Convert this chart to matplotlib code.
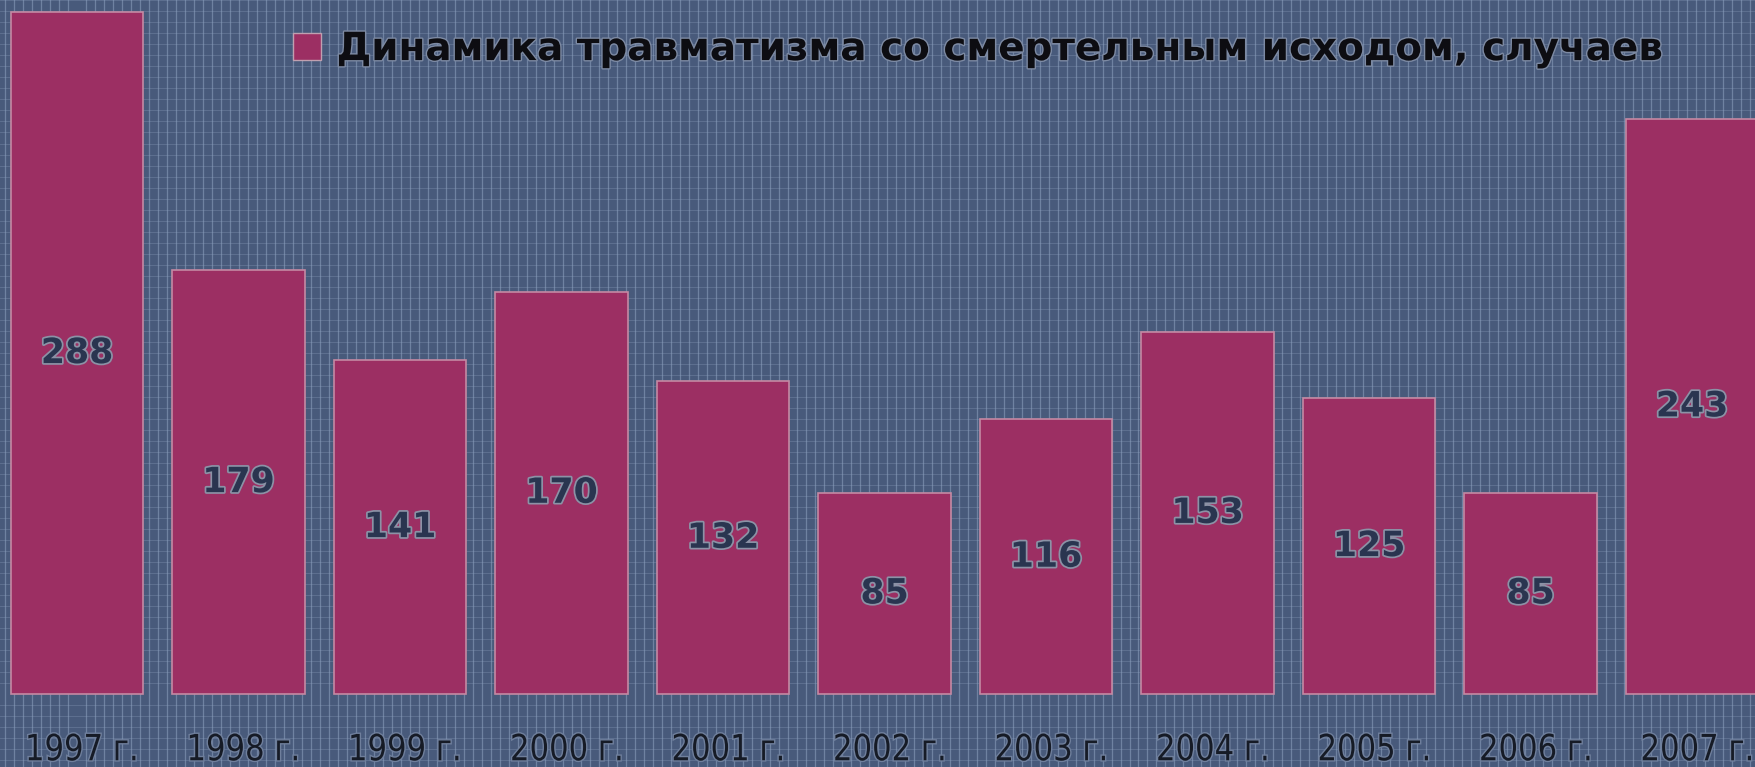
import matplotlib.pyplot as plt
import matplotlib.patheffects as pe
from matplotlib.patches import Patch, PathPatch
from matplotlib.textpath import TextPath
from matplotlib.font_manager import FontProperties
from matplotlib.transforms import Affine2D
from matplotlib.ticker import MultipleLocator

# Смертельный травматизм по годам
years = ['1997 г.', '1998 г.', '1999 г.', '2000 г.', '2001 г.', '2002 г.',
         '2003 г.', '2004 г.', '2005 г.', '2006 г.', '2007 г.']
cases = [288, 179, 141, 170, 132, 85, 116, 153, 125, 85, 243]
series_name = 'Динамика травматизма со смертельным исходом, случаев'

bg_color = '#485a7b'
bar_color = '#9c2f63'
DPI = 100

fig = plt.figure(figsize=(17.55, 7.67), dpi=DPI)
fig.patch.set_facecolor(bg_color)
ax = fig.add_axes([0, 0, 1, 1])
ax.set_facecolor(bg_color)

x = list(range(len(years)))
ax.bar(x, cases, width=0.82, color=bar_color, edgecolor='#c48aa3', linewidth=1.2, zorder=3)

ax.set_xlim(-0.477, 10.39)
ax.set_ylim(-30.8, 293.1)

# мелкая сетка-фактура на фоне
ax.xaxis.set_minor_locator(MultipleLocator(0.0557))
ax.yaxis.set_minor_locator(MultipleLocator(4.65))
ax.grid(which='minor', axis='x', color='#91a4c2', linewidth=0.9, alpha=0.55)
ax.grid(which='minor', axis='y', color='#91a4c2', linewidth=0.6, alpha=0.35)
ax.set_axisbelow(True)
ax.tick_params(which='both', length=0, labelbottom=False, labelleft=False)
for s in ax.spines.values():
    s.set_visible(False)

outline = [pe.withStroke(linewidth=2.5, foreground='#8c92a6')]
for xi, v in zip(x, cases):
    ax.text(xi, v / 2, str(v), ha='center', va='center', fontsize=25,
            fontweight='bold', color='#2a3550', path_effects=outline, zorder=4)


def narrow_label(xd, yd, s, size_pt, sx):
    """Подпись, сжатая по горизонтали (узкий шрифт подписей лет)."""
    tp = TextPath((0, 0), s, size=size_pt * DPI / 72, prop=FontProperties(family='DejaVu Sans'))
    bb = tp.get_extents()
    cx, cy = ax.transData.transform((xd, yd))
    tr = (Affine2D().translate(-(bb.x0 + bb.x1) / 2, -(bb.y0 + bb.y1) / 2)
          .scale(sx, 1).translate(cx, cy))
    p = PathPatch(tp, transform=tr, facecolor='#161b26', edgecolor='none', zorder=4,
                  path_effects=[pe.withStroke(linewidth=2, foreground='#6f7f9c')])
    fig.add_artist(p)


for xi, lab in zip(x, years):
    narrow_label(xi + 0.03, -22.4, lab, 26, 0.85)

handle = Patch(facecolor=bar_color, edgecolor='#c0a0b0', linewidth=1)
leg = ax.legend([handle], [series_name], loc='center left',
                bbox_to_anchor=(0.167, 0.936), frameon=False, borderaxespad=0,
                borderpad=0, handlelength=0.72, handleheight=0.72,
                handletextpad=0.4, prop={'size': 28, 'weight': 'bold'})
for t in leg.get_texts():
    t.set_color('#0d0d12')
    t.set_path_effects([pe.withStroke(linewidth=2, foreground='#7d8aa3')])

fig.savefig('out.png', dpi=DPI, facecolor=bg_color)
